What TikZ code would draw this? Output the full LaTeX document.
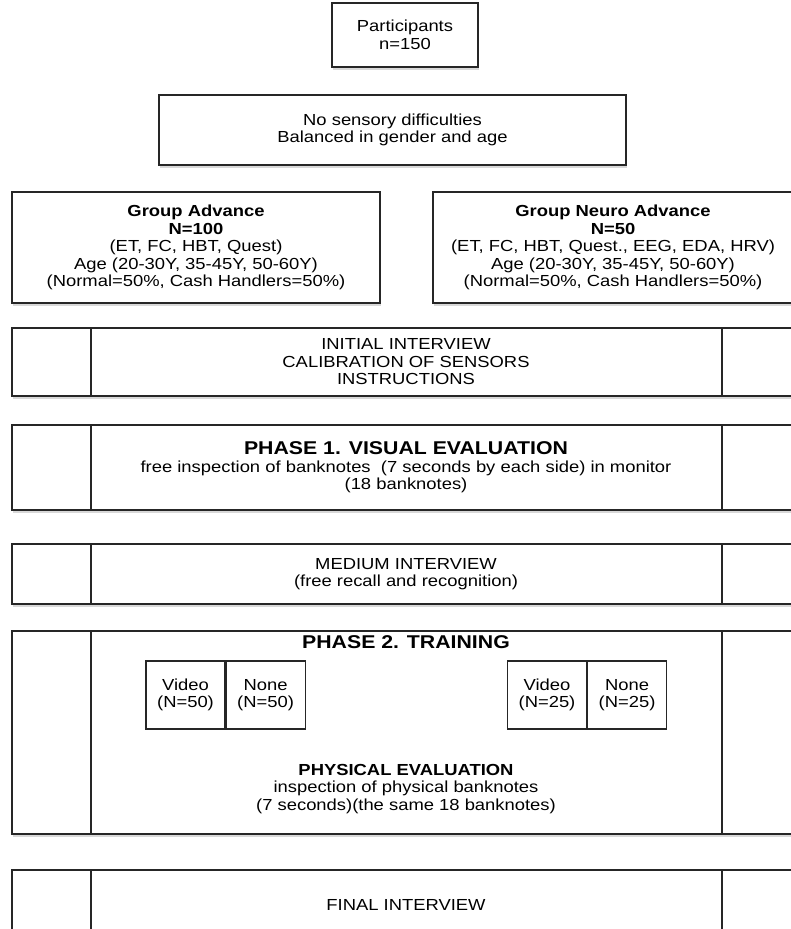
\documentclass[tikz,border=0pt]{standalone}
\usepackage{fontspec}
\setmainfont{Liberation Sans}[FakeStretch=1.15]
\usetikzlibrary{positioning,shadows}
\newcommand{\bodyfont}{\fontsize{16}{17.5}\selectfont}
\newcommand{\headfont}{\fontsize{18.5}{19}\selectfont\bfseries}
\tikzset{
  flowbox/.style={draw=black!85, line width=1.5pt, fill=white, align=center, inner sep=2pt,
    font=\bodyfont, drop shadow={shadow xshift=0.8pt, shadow yshift=-3pt, opacity=0.3}},
  stagebox/.style={flowbox, minimum width=788pt},
  choicebox/.style={draw=black!85, line width=1.1pt, fill=white, align=center, font=\bodyfont,
    minimum width=79pt, minimum height=68pt, inner sep=0pt},
  headtext/.style={font=\headfont, align=center, inner sep=0pt},
  plaintext/.style={font=\bodyfont, align=center, inner sep=0pt},
  cutline/.style={draw=black!85, line width=1.5pt},
}

\begin{document}
\begin{tikzpicture}[x=1pt, y=-1pt]
  \clip (0,0) rectangle (791,929);
  \fill[white] (0,0) rectangle (791,929);
  % top of the flow
  \node[flowbox, minimum width=146pt, minimum height=64pt] (part) at (405,35) {Participants\\n=150};
  \node[flowbox, minimum width=467pt, minimum height=70pt] (crit) at (392.5,130) {No sensory difficulties\\Balanced in gender and age};
  \node[flowbox, minimum width=368pt, minimum height=111pt] (grpA) at (196,247.5)
    {{\bfseries Group Advance}\\{\bfseries N=100}\\(ET, FC, HBT, Quest)\\Age (20-30Y, 35-45Y, 50-60Y)\\(Normal=50\%, Cash Handlers=50\%)};
  \node[flowbox, minimum width=360pt, minimum height=111pt] (grpN) at (613,247.5)
    {{\bfseries Group Neuro Advance}\\{\bfseries N=50}\\(ET, FC, HBT, Quest., EEG, EDA, HRV)\\Age (20-30Y, 35-45Y, 50-60Y)\\(Normal=50\%, Cash Handlers=50\%)};
  % stages
  \coordinate (lcut) at (91,0);
  \coordinate (rcut) at (722,0);
  \node[stagebox, minimum height=68pt] (ini) at (406,362) {INITIAL INTERVIEW\\CALIBRATION OF SENSORS\\INSTRUCTIONS};
  \node[stagebox, minimum height=85pt] (ph1) at (406,467.5)
    {{\headfont PHASE 1. VISUAL EVALUATION}\\free inspection of banknotes\ \ (7 seconds by each side) in monitor\\(18 banknotes)};
  \node[stagebox, minimum height=60pt] (mid) at (406,574) {MEDIUM INTERVIEW\\(free recall and recognition)};
  \node[stagebox, minimum height=203pt] (trn) at (406,732.5) {};
  \node[stagebox, minimum height=70pt] (fin) at (406,905) {FINAL INTERVIEW};
  \foreach \s in {ini,ph1,mid,trn,fin}{
    \draw[cutline] (\s.north -| lcut) -- (\s.south -| lcut);
    \draw[cutline] (\s.north -| rcut) -- (\s.south -| rcut);
  }
  % training phase
  \node[headtext] (trnT) at (406,642) {PHASE 2. TRAINING};
  \node[choicebox] (vidA) at (185.5,695) {Video\\(N=50)};
  \node[choicebox, anchor=west] (nonA) at (vidA.east) {None\\(N=50)};
  \node[choicebox] (vidN) at (547,695) {Video\\(N=25)};
  \node[choicebox, anchor=west] (nonN) at (vidN.east) {None\\(N=25)};
  \node[plaintext] (phys) at (406,789) {{\bfseries PHYSICAL EVALUATION}\\inspection of physical banknotes\\(7 seconds)(the same 18 banknotes)};
\end{tikzpicture}
\end{document}
